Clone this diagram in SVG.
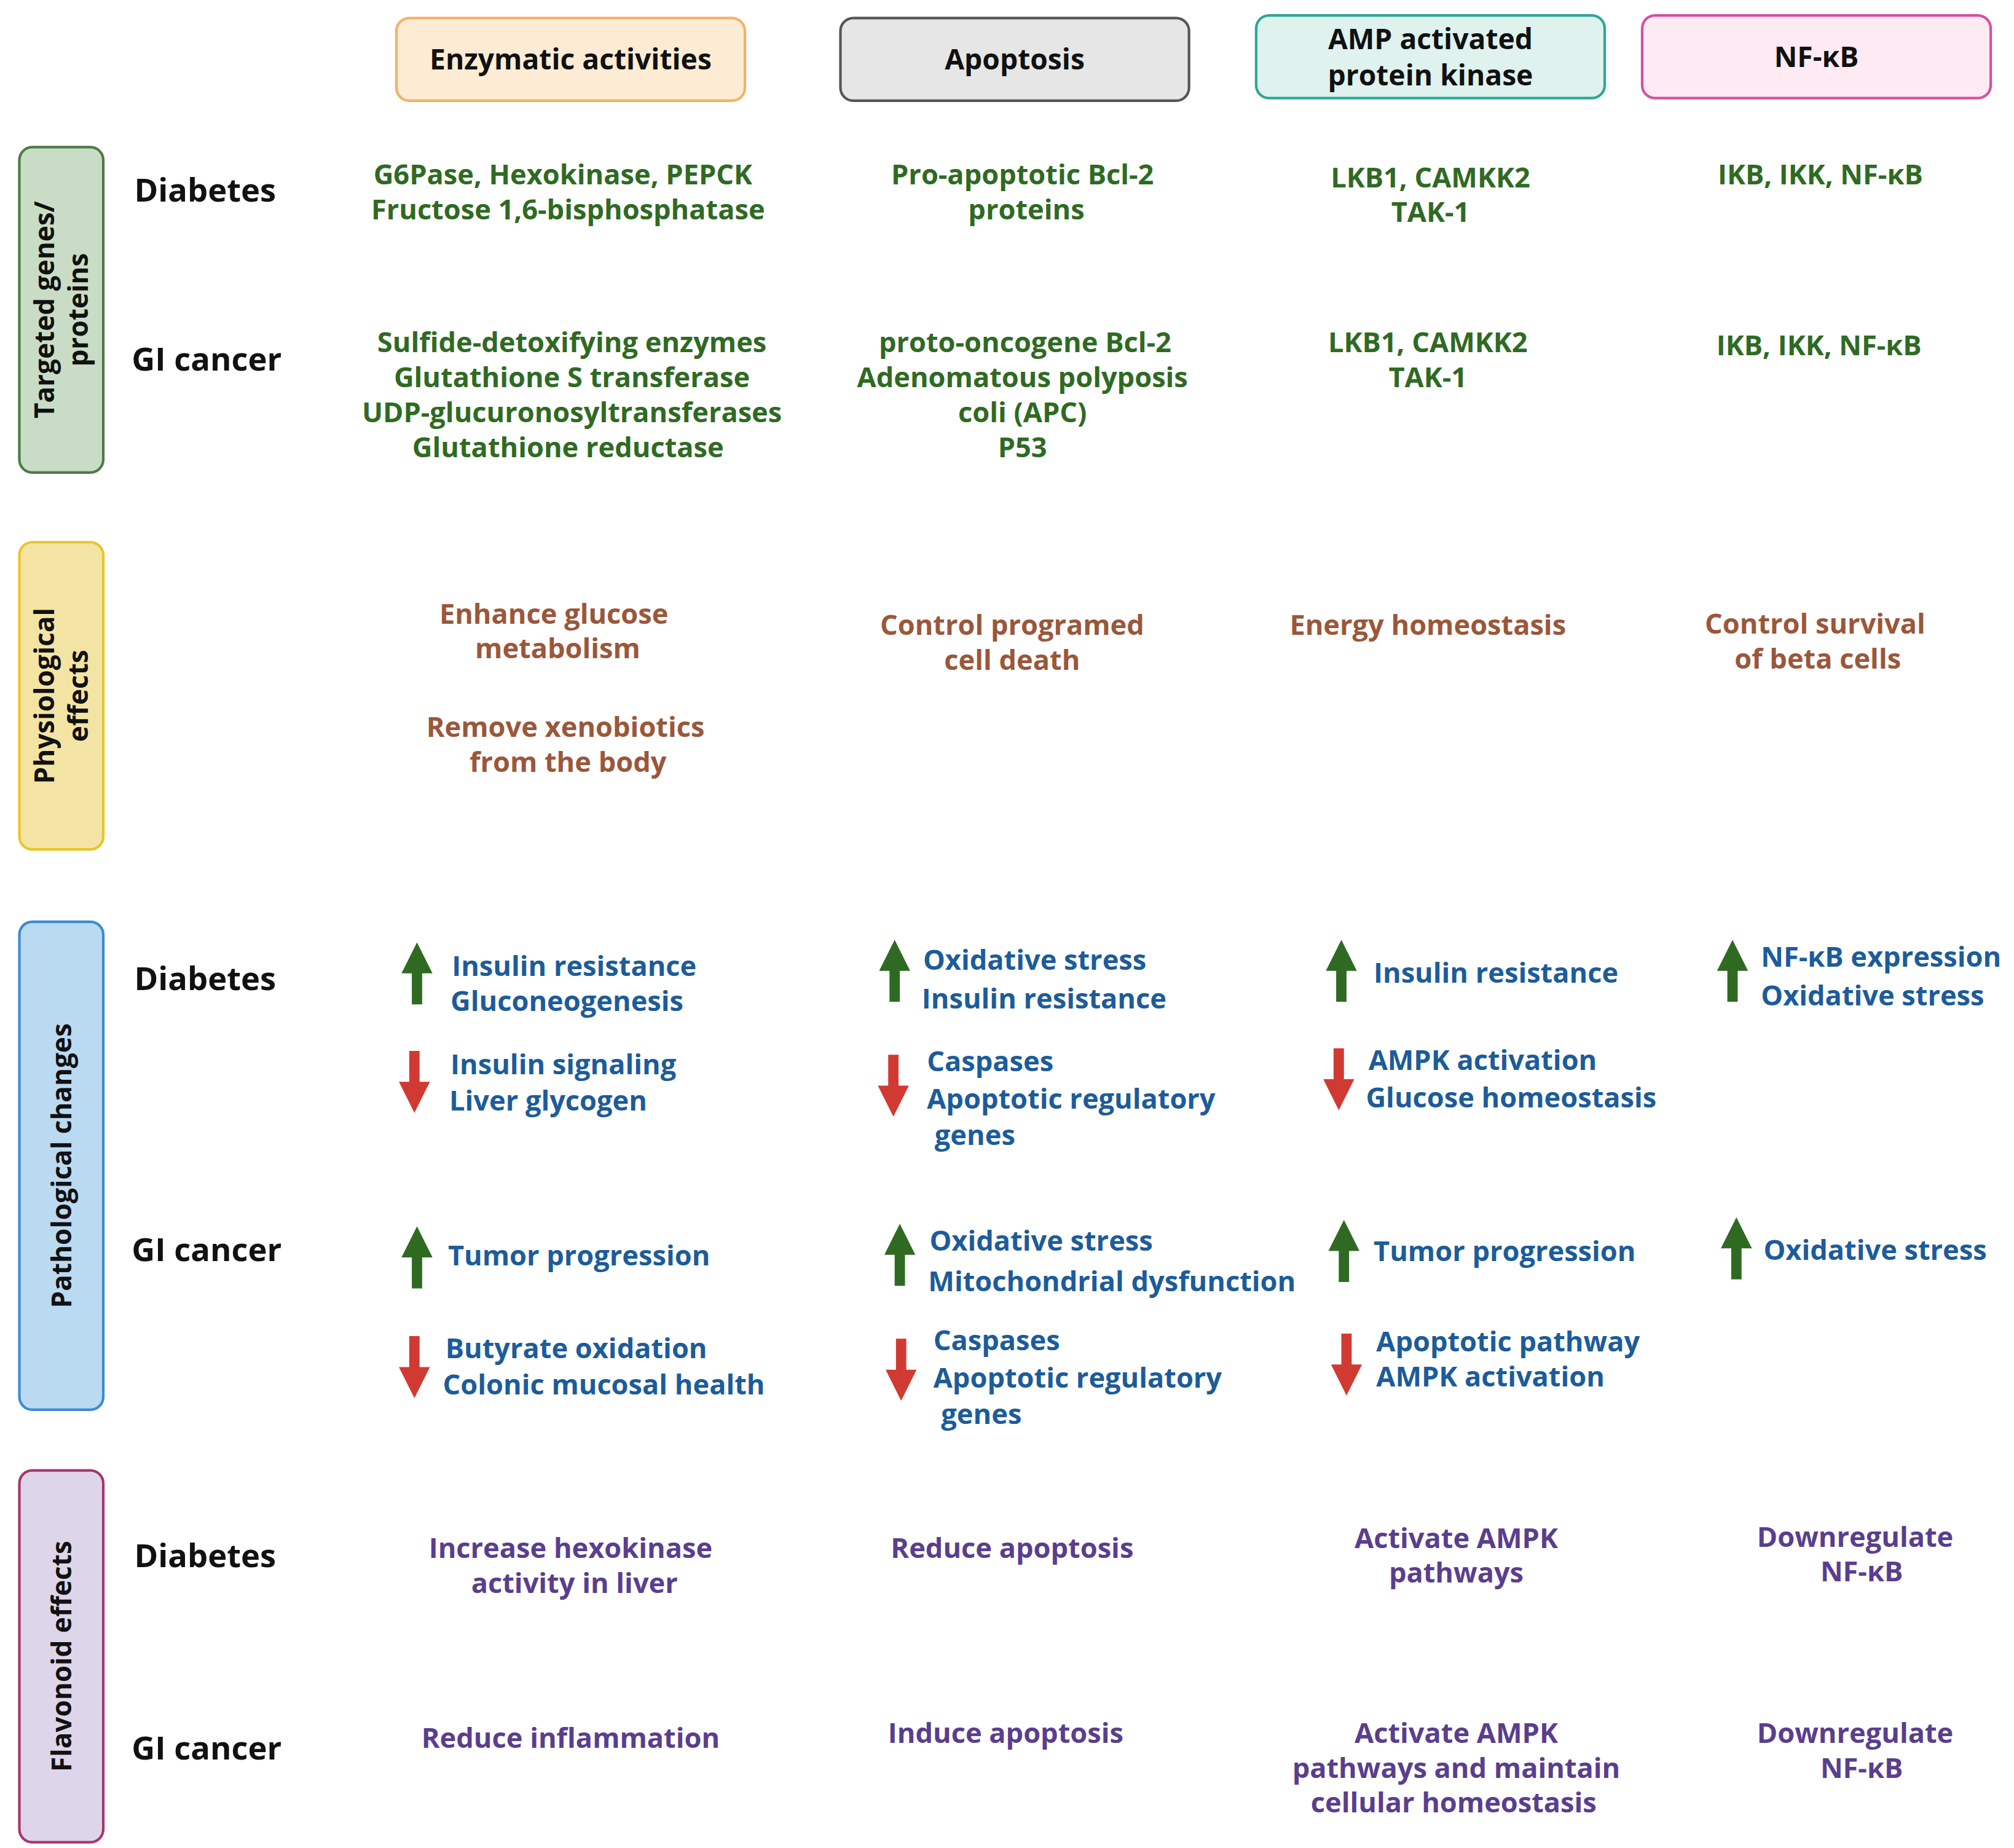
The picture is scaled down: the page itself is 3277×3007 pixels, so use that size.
<svg xmlns="http://www.w3.org/2000/svg" width="3277" height="3007" viewBox="0 0 3277 3007">
<style>
text{font-family:"Open Sans","Liberation Sans",sans-serif;font-weight:700}
.h{font-size:22px;fill:#111;text-anchor:middle}
.side{font-size:21px;fill:#111;text-anchor:middle}
.row{font-size:25px;fill:#111}
.g{font-size:21.5px;fill:#2f6a22;text-anchor:middle}
.b{font-size:21.5px;fill:#9a573a;text-anchor:middle}
.p{font-size:21.5px;fill:#1c5c9a}
.v{font-size:21.5px;fill:#5a3e8e;text-anchor:middle}
</style>
<defs>
<polygon id="up" points="0,0 12,24 4,24 4,48 -4,48 -4,24 -12,24" fill="#2f6a22"/>
<polygon id="dn" points="0,0 12,-24 4,-24 4,-48 -4,-48 -4,-24 -12,-24" fill="#d13a32"/>
</defs>
<rect width="3277" height="3007" fill="#fff"/>
<g transform="scale(2.1006)">
<g id="hdr-enzymatic"><rect x="307" y="14" width="270" height="64" rx="10" fill="#fdebd3" stroke="#f3b166" stroke-width="2"/><text class="h" x="442" y="54">Enzymatic activities</text></g>
<g id="hdr-apoptosis"><rect x="651" y="14" width="270" height="64" rx="10" fill="#e6e6e6" stroke="#555" stroke-width="2"/><text class="h" x="786" y="54">Apoptosis</text></g>
<g id="hdr-ampk"><rect x="973" y="12" width="270" height="64" rx="10" fill="#dff2ee" stroke="#2aa896" stroke-width="2"/><text class="h" x="1108" y="38">AMP activated</text><text class="h" x="1108" y="66">protein kinase</text></g>
<g id="hdr-nfkb"><rect x="1272" y="12" width="270" height="64" rx="10" fill="#fdeaf3" stroke="#d64f9f" stroke-width="2"/><text class="h" x="1407" y="52">NF-κB</text></g>

<g id="side-targeted"><rect x="15" y="114" width="65" height="252" rx="10" fill="#c9ddc6" stroke="#4d7a4a" stroke-width="2"/><text class="side" transform="translate(42,240) rotate(-90)">Targeted genes/</text><text class="side" transform="translate(68,240) rotate(-90)">proteins</text></g>
<g id="side-phys"><rect x="15" y="420" width="65" height="238" rx="10" fill="#f4e4a4" stroke="#e8c52a" stroke-width="2"/><text class="side" transform="translate(42,539) rotate(-90)">Physiological</text><text class="side" transform="translate(68,539) rotate(-90)">effects</text></g>
<g id="side-path"><rect x="15" y="714" width="65" height="378" rx="10" fill="#badaf2" stroke="#3c8bd0" stroke-width="2"/><text class="side" transform="translate(55,903) rotate(-90)">Pathological changes</text></g>
<g id="side-flav"><rect x="15" y="1139" width="65" height="288" rx="10" fill="#ddd6ea" stroke="#a8356f" stroke-width="2"/><text class="side" transform="translate(55,1283) rotate(-90)">Flavonoid effects</text></g>

<g id="row-labels">
<text class="row" x="104" y="156">Diabetes</text><text class="row" x="102" y="287">GI cancer</text>
<text class="row" x="104" y="767">Diabetes</text><text class="row" x="102" y="977">GI cancer</text>
<text class="row" x="104" y="1214">Diabetes</text><text class="row" x="102" y="1363">GI cancer</text>
</g>

<g id="targeted">
<text class="g" x="436" y="143">G6Pase, Hexokinase, PEPCK</text><text class="g" x="440" y="170">Fructose 1,6-bisphosphatase</text>
<text class="g" x="792" y="143">Pro-apoptotic Bcl-2</text><text class="g" x="795" y="170">proteins</text>
<text class="g" x="1108" y="145">LKB1, CAMKK2</text><text class="g" x="1108" y="172">TAK-1</text>
<text class="g" x="1410" y="143">IKB, IKK, NF-κB</text>
<text class="g" x="443" y="273">Sulfide-detoxifying enzymes</text><text class="g" x="443" y="300">Glutathione S transferase</text><text class="g" x="443" y="327">UDP-glucuronosyltransferases</text><text class="g" x="440" y="354">Glutathione reductase</text>
<text class="g" x="794" y="273">proto-oncogene Bcl-2</text><text class="g" x="792" y="300">Adenomatous polyposis</text><text class="g" x="792" y="327">coli (APC)</text><text class="g" x="792" y="354">P53</text>
<text class="g" x="1106" y="273">LKB1, CAMKK2</text><text class="g" x="1106" y="300">TAK-1</text>
<text class="g" x="1409" y="275">IKB, IKK, NF-κB</text>
</g>

<g id="physiological">
<text class="b" x="429" y="483">Enhance glucose</text><text class="b" x="432" y="510">metabolism</text>
<text class="b" x="438" y="571">Remove xenobiotics</text><text class="b" x="440" y="598">from the body</text>
<text class="b" x="784" y="492">Control programed</text><text class="b" x="784" y="519">cell death</text>
<text class="b" x="1106" y="492">Energy homeostasis</text>
<text class="b" x="1406" y="491">Control survival</text><text class="b" x="1408" y="518">of beta cells</text>
</g>

<g id="connectors">
<use href="#up" x="323" y="730"/><use href="#up" x="693" y="728"/><use href="#up" x="1039" y="728"/><use href="#up" x="1342" y="728"/>
<use href="#up" x="323" y="950"/><use href="#up" x="697" y="948"/><use href="#up" x="1041" y="945"/><use href="#up" x="1345" y="943"/>
<use href="#dn" x="321" y="862"/><use href="#dn" x="692" y="865"/><use href="#dn" x="1037" y="860"/>
<use href="#dn" x="321" y="1083"/><use href="#dn" x="698" y="1085"/><use href="#dn" x="1043" y="1081"/>
</g>

<g id="pathological">
<text class="p" x="350" y="756">Insulin resistance</text><text class="p" x="349" y="783">Gluconeogenesis</text>
<text class="p" x="349" y="832">Insulin signaling</text><text class="p" x="348" y="860">Liver glycogen</text>
<text class="p" x="715" y="751">Oxidative stress</text><text class="p" x="714" y="781">Insulin resistance</text>
<text class="p" x="718" y="830">Caspases</text><text class="p" x="718" y="859">Apoptotic regulatory</text><text class="p" x="724" y="887">genes</text>
<text class="p" x="1064" y="761">Insulin resistance</text>
<text class="p" x="1060" y="829">AMPK activation</text><text class="p" x="1058" y="858">Glucose homeostasis</text>
<text class="p" x="1364" y="749">NF-κB expression</text><text class="p" x="1364" y="779">Oxidative stress</text>
<text class="p" x="347" y="980">Tumor progression</text>
<text class="p" x="345" y="1052">Butyrate oxidation</text><text class="p" x="343" y="1080">Colonic mucosal health</text>
<text class="p" x="720" y="969">Oxidative stress</text><text class="p" x="719" y="1000">Mitochondrial dysfunction</text>
<text class="p" x="723" y="1046">Caspases</text><text class="p" x="723" y="1075">Apoptotic regulatory</text><text class="p" x="729" y="1103">genes</text>
<text class="p" x="1064" y="977">Tumor progression</text>
<text class="p" x="1066" y="1047">Apoptotic pathway</text><text class="p" x="1066" y="1074">AMPK activation</text>
<text class="p" x="1366" y="976">Oxidative stress</text>
</g>

<g id="flavonoid">
<text class="v" x="442" y="1207">Increase hexokinase</text><text class="v" x="445" y="1234">activity in liver</text>
<text class="v" x="784" y="1207">Reduce apoptosis</text>
<text class="v" x="1128" y="1199">Activate AMPK</text><text class="v" x="1128" y="1226">pathways</text>
<text class="v" x="1437" y="1198">Downregulate</text><text class="v" x="1442" y="1225">NF-κB</text>
<text class="v" x="442" y="1354">Reduce inflammation</text>
<text class="v" x="779" y="1350">Induce apoptosis</text>
<text class="v" x="1128" y="1350">Activate AMPK</text><text class="v" x="1128" y="1377">pathways and maintain</text><text class="v" x="1126" y="1404">cellular homeostasis</text>
<text class="v" x="1437" y="1350">Downregulate</text><text class="v" x="1442" y="1377">NF-κB</text>
</g>
</g>
</svg>
